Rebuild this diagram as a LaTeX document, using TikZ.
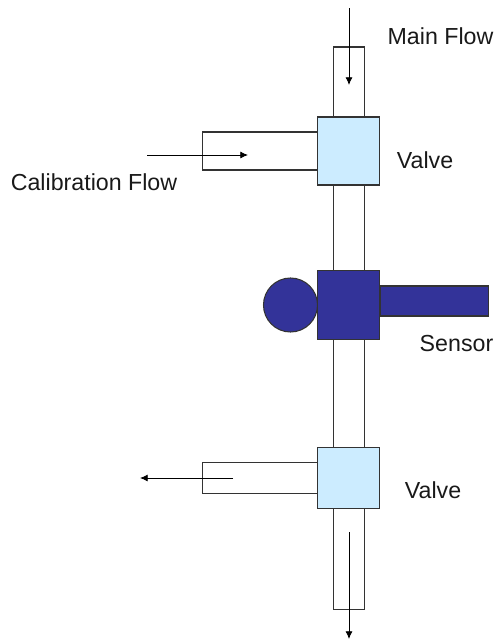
\documentclass[tikz,border=0pt]{standalone}
\usepackage{fontspec}
\setmainfont{Liberation Sans}
\usetikzlibrary{arrows.meta}
\definecolor{valvecol}{HTML}{CCECFF}
\definecolor{sensorcol}{HTML}{333399}
\definecolor{linecol}{HTML}{333333}
\tikzset{
    part/.style={draw=linecol, line width=0.75pt, inner sep=0pt, outer sep=0pt},
    pipe/.style={part, fill=white},
    valve/.style={part, fill=valvecol, minimum width=1.5625cm},
    sensor/.style={part, fill=sensorcol},
    flow/.style={-{Latex[length=5.5pt,width=5pt]}, line width=0.6pt, color=black},
    label/.style={text=black!90, font=\fontsize{16.5}{18}\selectfont, inner sep=0pt}
}
\begin{document}
\begin{tikzpicture}[x=0.025cm, y=-0.025cm]
        \useasboundingbox (0,0) rectangle (494,640);
        \node[pipe, minimum width=0.7625cm, minimum height=1.75cm](PT) at (349.2,82) {};
        \node[pipe, minimum width=2.9cm, minimum height=0.95cm](PC) at (260.5,151) {};
        \node[pipe, minimum width=0.7625cm, minimum height=2.2cm](PU) at (349.2,228) {};
        \node[pipe, minimum width=0.7625cm, minimum height=2.8cm](PL) at (349.2,393) {};
        \node[pipe, minimum width=2.9cm, minimum height=0.7625cm](PR) at (260.5,478) {};
        \node[pipe, minimum width=0.7625cm, minimum height=2.55cm](PB) at (349.2,558.5) {};
        \node[valve, minimum height=1.7cm](V1) at (348.7,151) {};
        \node[valve, minimum height=1.525cm](V2) at (348.7,478) {};
        \node[sensor, circle, minimum size=1.35cm](SC) at (290.5,305) {};
        \node[sensor, minimum width=2.7cm, minimum height=0.75cm](SB) at (434.5,301) {};
        \node[sensor, minimum width=1.5625cm, minimum height=1.725cm](S) at (348.7,305) {};

        \coordinate (M0) at (349,8);
        \coordinate (M1) at (349,85);
        \coordinate (C0) at (147,155);
        \coordinate (C1) at (248,155);
        \coordinate (R0) at (233,478);
        \coordinate (R1) at (140,478);
        \coordinate (B0) at (349,532);
        \coordinate (B1) at (349,639);
        \draw[flow] (M0) -- (M1);
        \draw[flow] (C0) -- (C1);
        \draw[flow] (R0) -- (R1);
        \draw[flow] (B0) -- (B1);

        \node[label](LM) at (440.5,36) {Main Flow};
        \node[label](LV1) at (425,160) {Valve};
        \node[label](LC) at (94,182) {Calibration Flow};
        \node[label](LS) at (456.5,344) {Sensor};
        \node[label](LV2) at (433,490) {Valve};
    \end{tikzpicture}
\end{document}
